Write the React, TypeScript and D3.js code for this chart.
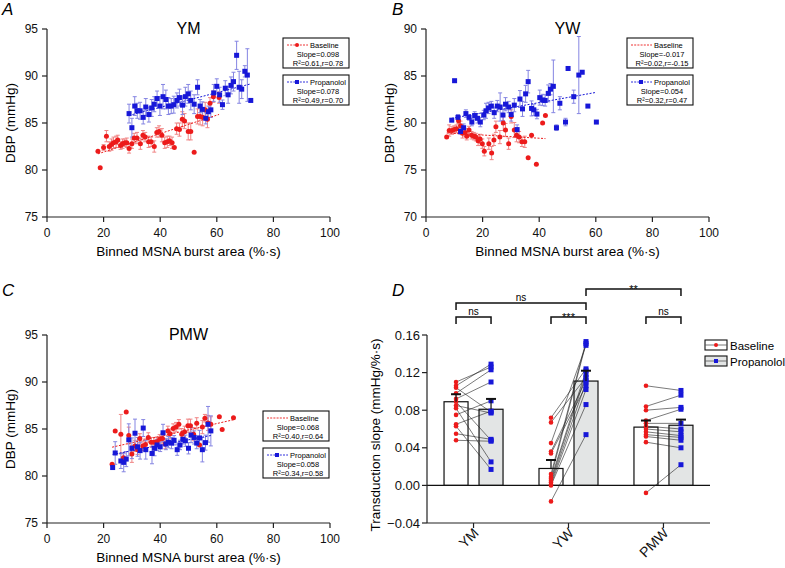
import React from 'react';
import * as d3 from 'd3';

// [burst area (%·s), DBP (mmHg), SEM]
type Pt = [number, number, number];

const ymBaseline: Pt[] = [
  [18, 82.0, 0], [18.8, 80.25, 0], [20, 82.4, 0.3], [21, 83.6, 0.6], [22, 82.5, 0.5], [22.8, 82.7, 0.6],
  [23.5, 82.9, 0.6], [24.4, 83.0, 0.6], [25, 83.2, 0.5], [26, 82.6, 0.4], [26.7, 82.8, 0.5], [27.5, 82.9, 0.4],
  [28.2, 82.9, 0.5], [29, 82.3, 0.5], [30, 82.8, 0.5], [30.8, 83.4, 0.5], [31.8, 83.4, 0.6], [33, 82.8, 0.6],
  [33.9, 83.7, 0.5], [34.7, 83.5, 0.5], [35.9, 83.0, 0.6], [36.8, 83.0, 0.5], [37.9, 82.5, 0.6], [38.8, 84.0, 0.5],
  [39.6, 84.1, 0.6], [40.6, 83.7, 0.7], [41.6, 82.9, 0.6], [42.5, 83.0, 0.6], [43.3, 83.1, 0.5], [44.2, 82.9, 0.6],
  [45, 82.4, 0], [45.8, 84.4, 0.6], [46.8, 84.3, 0.7], [47.8, 85.4, 0.8], [48.6, 85.2, 0.8], [49.9, 84.1, 0.9],
  [50.8, 84.1, 0.9], [52, 81.9, 0], [53.2, 85.7, 0.8], [54.1, 85.7, 0.9], [55, 85.6, 0.9], [55.9, 86.4, 0.8],
  [56.7, 85.4, 0.9], [57.6, 87.1, 0.6], [58.8, 87.8, 0.6], [60.8, 87.7, 0.6],
];
const ymPropanolol: Pt[] = [
  [29, 86.0, 1.0], [30, 84.5, 1.0], [31, 86.8, 1.0], [31.9, 86.3, 0.8], [32.9, 86.3, 0.9], [34, 85.6, 0.7],
  [34.9, 86.7, 0.9], [36, 85.9, 0.8], [37, 86.6, 0.9], [37.9, 87.0, 0.8], [38.9, 87.6, 0.8], [39.9, 86.8, 1.0],
  [41, 87.8, 1.3], [42, 87.5, 1.0], [42.9, 86.8, 0.9], [43.9, 86.8, 0.8], [44.8, 86.95, 0.9], [45.9, 87.4, 0.8],
  [46.8, 87.7, 0.9], [47.9, 86.9, 1.0], [48.9, 87.8, 1.0], [49.9, 88.1, 1.0], [50.8, 87.4, 1.0], [52, 87.0, 1.0],
  [53.2, 88.8, 0.8], [54.1, 86.8, 0.7], [54.9, 86.45, 0.8], [56.1, 85.5, 0.6], [57, 86.2, 0.6], [57.9, 86.4, 0.8],
  [58.9, 88.2, 0.9], [60, 88.9, 0.8], [61, 88.0, 0.8], [62, 86.95, 0.5], [63, 88.7, 0.8], [64, 88.0, 0.9],
  [65, 89.0, 0.9], [65.9, 89.4, 1.0], [67, 92.2, 1.5], [67.9, 88.8, 1.7], [68.8, 88.6, 1.0], [69.9, 90.5, 0.6],
  [70.8, 90.1, 2.8], [72, 87.4, 0],
];

const ywBaseline: Pt[] = [
  [7.3, 78.5, 0], [8.2, 79.2, 0.6], [9.2, 79.2, 0.4], [10, 79.3, 0.4], [10.8, 79.4, 0.4], [11.5, 80.25, 0.3],
  [12.2, 79.7, 0.5], [12.9, 78.9, 0.5], [13.8, 79.0, 0.4], [14.4, 78.6, 0.4], [15.2, 79.25, 0.4], [16.1, 78.7, 0.4],
  [16.9, 78.6, 0.4], [17.6, 78.5, 0.4], [18.4, 78.1, 0.5], [19.1, 78.3, 0.5], [19.9, 77.8, 0.5], [20.6, 77.0, 0.5],
  [22.2, 77.8, 0.6], [23.2, 76.8, 0.7], [24, 78.2, 0.6], [24.7, 79.6, 0.6], [26.1, 78.5, 0.7], [27.3, 80.0, 0.8],
  [28.1, 79.25, 0.7], [29.2, 77.8, 0.6], [30.1, 80.7, 0.7], [31.2, 79.25, 0.8], [32, 78.7, 0.7], [32.9, 78.5, 0.6],
  [33.9, 78.0, 0.5], [34.9, 78.0, 0.6], [36.1, 76.3, 0], [37.3, 78.7, 0], [39, 75.6, 0], [41.2, 80.0, 0],
  [42.2, 80.8, 0],
];
const ywPropanolol: Pt[] = [
  [9.1, 80.3, 0], [10.1, 84.5, 0], [11.3, 80.6, 0.3], [12.2, 79.1, 0.3], [13.3, 79.5, 0.4], [14.1, 81.0, 0.4],
  [15.2, 80.6, 0.3], [16.2, 80.1, 0.4], [17.2, 80.8, 0.4], [18.2, 80.5, 0.5], [19.2, 80.1, 0.5], [20.4, 80.85, 0.5],
  [21.2, 81.3, 0.8], [22.1, 81.6, 0.6], [23.1, 81.8, 0.5], [24.1, 81.1, 0.6], [25.2, 81.8, 0.6], [26.2, 81.7, 1.5],
  [27.2, 80.85, 0.6], [28.1, 82.0, 0.7], [29.2, 81.7, 0.6], [30.1, 80.9, 0.7], [31.2, 81.9, 0.7], [32.2, 79.3, 0.5],
  [33.2, 82.55, 0.9], [34.1, 81.5, 0.8], [35.2, 83.1, 0.9], [36.1, 84.4, 1.2], [37.3, 81.55, 0.8], [38.1, 81.4, 0.6],
  [39.2, 80.95, 0.5], [40.2, 82.7, 0.8], [41.2, 82.45, 0.6], [42.1, 82.4, 0.6], [43.2, 83.15, 0.9], [44, 83.6, 0.6],
  [45, 83.9, 2.8], [46.1, 79.5, 0.3], [47.3, 82.1, 0.7], [49.3, 80.1, 0.4], [50.2, 85.8, 0], [52.2, 82.8, 0.7],
  [54, 85.1, 4.1], [55.2, 85.4, 0], [57.2, 81.8, 0], [60.2, 80.1, 0],
];

const pmwBaseline: Pt[] = [
  [23, 81.25, 0], [24.1, 84.8, 0], [26.1, 84.45, 2.1], [27, 81.95, 0.5], [28, 86.8, 0], [28.9, 84.3, 0.9],
  [30, 82.35, 0.9], [31.1, 83.2, 0.6], [32, 82.8, 0.5], [32.8, 84.0, 0.5], [33.9, 83.2, 0.5], [34.8, 83.35, 0.6],
  [35.8, 84.1, 0.5], [36.8, 83.6, 0.5], [37.8, 83.6, 0.5], [38.8, 83.65, 0.5], [39.8, 83.9, 0.5], [40.8, 84.0, 0.5],
  [41.8, 83.4, 0.5], [42.7, 84.8, 0.5], [43.5, 84.5, 0.5], [44.6, 85.05, 0.5], [45.6, 85.2, 0.5], [46.6, 85.5, 0.5],
  [47.6, 84.45, 0.6], [48.6, 84.7, 0.6], [49.8, 85.35, 0.7], [50.7, 85.35, 0.7], [51.8, 84.45, 0.7], [52.9, 85.6, 0.6],
  [53.9, 83.3, 0], [54.9, 85.2, 0.7], [55.8, 86.15, 0.4], [56.9, 85.65, 0.8], [57.9, 85.5, 0.8], [60.9, 86.3, 0],
  [61.9, 84.95, 0], [65.9, 86.2, 0],
];
const pmwPropanolol: Pt[] = [
  [23.2, 80.9, 0], [24.1, 82.45, 1.2], [26.1, 81.6, 0.8], [27.1, 81.45, 1.0], [28, 81.8, 0.8], [28.9, 83.85, 1.7],
  [30, 82.95, 1.1], [31.1, 84.55, 1.5], [32, 83.1, 1.0], [32.9, 82.7, 0.9], [34, 85.1, 0.9], [34.9, 82.8, 1.0],
  [37.1, 82.4, 1.1], [38, 82.95, 0.8], [38.9, 83.3, 0.6], [40, 83.1, 0.5], [41, 84.6, 0.9], [42, 83.4, 0.6],
  [42.9, 83.6, 0.6], [44, 83.5, 0.6], [44.9, 83.8, 0.5], [46, 82.8, 0.6], [47, 83.3, 0.5], [48, 83.9, 0.5],
  [48.9, 83.75, 0.6], [50, 82.95, 0.6], [50.9, 84.35, 0.8], [52, 84.1, 0.7], [52.9, 83.5, 0.6], [53.9, 84.05, 0.8],
  [54.9, 82.8, 1.3], [56, 83.55, 0.8], [56.9, 85.5, 1.9], [57.9, 84.8, 1.6],
];

// slope, R², r as printed in each legend
const ymStats = { base: [0.098, '0.61', '0.78'], prop: [0.078, '0.49', '0.70'] };
const ywStats = { base: [-0.017, '0.02', '-0.15'], prop: [0.054, '0.32', '0.47'] };
const pmwStats = { base: [0.068, '0.40', '0.64'], prop: [0.058, '0.34', '0.58'] };

// panel D
const groups = ['YM', 'YW', 'PMW'];
const slopeTicks = [-0.04, 0, 0.04, 0.08, 0.12, 0.16];
const baselineMean = [0.089, 0.018, 0.062];
const baselineSem = [0.008, 0.009, 0.007];
const propMean = [0.081, 0.111, 0.064];
const propSem = [0.011, 0.011, 0.006];
const slopeBaseline = [
  [0.110, 0.106, 0.104, 0.098, 0.092, 0.089, 0.085, 0.082, 0.075, 0.065, 0.063, 0.055, 0.048],
  [0.072, 0.067, 0.045, 0.036, 0.034, 0.012, 0.009, 0.007, 0.005, 0.003, 0.001, 0.000, -0.017],
  [0.106, 0.084, 0.080, 0.069, 0.066, 0.063, 0.060, 0.057, 0.054, 0.052, 0.046, -0.008],
];
const slopePropanolol = [
  [0.126, 0.129, 0.078, 0.123, 0.110, 0.048, 0.077, 0.025, 0.090, 0.079, 0.017, 0.049, 0.047],
  [0.124, 0.115, 0.149, 0.112, 0.106, 0.153, 0.151, 0.122, 0.118, 0.110, 0.102, 0.086, 0.054],
  [0.101, 0.096, 0.083, 0.081, 0.066, 0.060, 0.057, 0.053, 0.051, 0.048, 0.040, 0.022],
];
// [group, side, group, side, level, label]
const brackets: [string, number, string, number, number, string][] = [
  ['YM', -1, 'YM', 1, 0, 'ns'],
  ['YW', -1, 'YW', 1, 0, '***'],
  ['PMW', -1, 'PMW', 1, 0, 'ns'],
  ['YM', -1, 'YW', 1, 1, 'ns'],
  ['YW', 1, 'PMW', 1, 2, '**'],
];

const FONT = "'Liberation Sans', Arial, Helvetica, sans-serif";
const RED = '#ec1b1b';
const BLUE = '#1717d8';
const RED_ERR = '#f08585';
const BLUE_ERR = '#8585e2';

function fitLine(pts: Pt[], slope: number) {
  const mx = d3.mean(pts, (d) => d[0]) as number;
  const my = d3.mean(pts, (d) => d[1]) as number;
  const [x0, x1] = d3.extent(pts, (d) => d[0]) as [number, number];
  return [[x0, my + slope * (x0 - mx)], [x1, my + slope * (x1 - mx)]];
}

function Marker({ x, y, kind, color, size = 5 }: any) {
  if (kind === 'circle') return <circle cx={x} cy={y} r={size / 2} fill={color} />;
  return <rect x={x - size / 2} y={y - size / 2} width={size} height={size} fill={color} />;
}

function LegendBox({ x, y, label, color, dash, marker, stats }: any) {
  const w = 66, h = 30;
  return (
    <g fontFamily={FONT} fontSize={7.5}>
      <rect x={x} y={y} width={w} height={h} fill="#fff" stroke="#111" strokeWidth={1.1} />
      <line x1={x + 4} x2={x + 25} y1={y + 7} y2={y + 7} stroke={color} strokeWidth={0.9} strokeDasharray={dash} />
      {marker && <Marker x={x + 14} y={y + 7} kind={marker} color={color} size={4} />}
      <text x={x + 27} y={y + 10}>{label}</text>
      <text x={x + w / 2 + 2} y={y + 18.5} textAnchor="middle">Slope={stats[0].toFixed(3)}</text>
      <text x={x + w / 2 + 2} y={y + 27.5} textAnchor="middle">R²={stats[1]},r={stats[2]}</text>
    </g>
  );
}

function ScatterPanel({ left, top, yMin, title, base, prop, stats, legendX, legendY, baseLegendMarker }: any) {
  const x = d3.scaleLinear().domain([0, 100]).range([left, left + 283]);
  const y = d3.scaleLinear().domain([yMin, yMin + 20]).range([top + 188, top]);
  const bottom = top + 188;
  const line = d3.line<number[]>().x((d) => x(d[0])).y((d) => y(d[1]));
  const series = [
    { pts: base as Pt[], color: RED, err: RED_ERR, kind: 'circle', slope: stats.base[0], dash: '2,1.5' },
    { pts: prop as Pt[], color: BLUE, err: BLUE_ERR, kind: 'square', slope: stats.prop[0], dash: '2,1.5' },
  ];
  return (
    <g fontFamily={FONT}>
      <text x={(x(0) + x(100)) / 2} y={top + 5} textAnchor="middle" fontSize={16}>{title}</text>
      {series.map((s, i) => (
        <g key={'e' + i} stroke={s.err} strokeWidth={1}>
          {s.pts.filter((d) => d[2] > 0).map((d, j) => (
            <g key={j}>
              <line x1={x(d[0])} x2={x(d[0])} y1={y(d[1] - d[2])} y2={y(d[1] + d[2])} />
              <line x1={x(d[0]) - 2} x2={x(d[0]) + 2} y1={y(d[1] + d[2])} y2={y(d[1] + d[2])} />
              <line x1={x(d[0]) - 2} x2={x(d[0]) + 2} y1={y(d[1] - d[2])} y2={y(d[1] - d[2])} />
            </g>
          ))}
        </g>
      ))}
      {series.map((s, i) => (
        <path key={'f' + i} d={line(fitLine(s.pts, s.slope)) as string} stroke={s.color} strokeWidth={1} strokeDasharray={s.dash} fill="none" />
      ))}
      {series.map((s, i) => (
        <g key={'m' + i}>
          {s.pts.map((d, j) => <Marker key={j} x={x(d[0])} y={y(d[1])} kind={s.kind} color={s.color} />)}
        </g>
      ))}
      <g stroke="#222" strokeWidth={1.2}>
        <line x1={left} x2={left} y1={top} y2={bottom} />
        <line x1={left} x2={x(100)} y1={bottom} y2={bottom} />
        {x.ticks(5).map((t) => <line key={t} x1={x(t)} x2={x(t)} y1={bottom} y2={bottom + 5} />)}
        {y.ticks(4).map((t) => <line key={t} x1={left - 5} x2={left} y1={y(t)} y2={y(t)} />)}
      </g>
      <g fontSize={12} fill="#111">
        {x.ticks(5).map((t) => <text key={t} x={x(t)} y={bottom + 20} textAnchor="middle">{t}</text>)}
        {y.ticks(4).map((t) => <text key={t} x={left - 9} y={y(t) + 4} textAnchor="end">{t}</text>)}
      </g>
      <text x={x(50)} y={bottom + 39} textAnchor="middle" fontSize={13.5}>Binned MSNA burst area (%·s)</text>
      <text transform={`translate(${left - 32},${(top + bottom) / 2}) rotate(-90)`} textAnchor="middle" fontSize={13.5}>DBP (mmHg)</text>
      <LegendBox x={legendX} y={legendY} label="Baseline" color={RED} dash="2,1.2" marker={baseLegendMarker} stats={stats.base} />
      <LegendBox x={legendX} y={legendY + 37} label="Propanolol" color={BLUE} dash="2,1.2" marker="square" stats={stats.prop} />
    </g>
  );
}

function SlopePanel() {
  const gx = d3.scalePoint().domain(groups).range([427, 710]).padding(0.49);
  const y = d3.scaleLinear().domain([-0.04, 0.16]).range([523, 335]);
  const off = 17.5, bw = 24;
  const colX = (g: string, side: number) => (gx(g) as number) + side * off;
  return (
    <g fontFamily={FONT}>
      {groups.map((g, i) => (
        <g key={g} stroke="#111" strokeWidth={1.2}>
          <rect x={colX(g, -1) - bw / 2} y={y(Math.max(baselineMean[i], 0))} width={bw} height={Math.abs(y(baselineMean[i]) - y(0))} fill="#fff" />
          <rect x={colX(g, 1) - bw / 2} y={y(propMean[i])} width={bw} height={y(0) - y(propMean[i])} fill="#e3e5e5" />
        </g>
      ))}
      <line x1={427} x2={710} y1={y(0)} y2={y(0)} stroke="#111" strokeWidth={1.2} />
      {groups.map((g, i) => (
        <g key={'p' + g}>
          {slopeBaseline[i].map((v, j) => (
            <line key={j} x1={colX(g, -1)} x2={colX(g, 1)} y1={y(v)} y2={y(slopePropanolol[i][j])} stroke="#222" strokeWidth={0.6} />
          ))}
          {slopeBaseline[i].map((v, j) => <circle key={'b' + j} cx={colX(g, -1)} cy={y(v)} r={2.3} fill={RED} />)}
          {slopePropanolol[i].map((v, j) => <rect key={'q' + j} x={colX(g, 1) - 2.5} y={y(v) - 2.5} width={5} height={5} fill={BLUE} />)}
        </g>
      ))}
      {groups.map((g, i) => (
        <g key={'s' + g} stroke="#111">
          <line x1={colX(g, -1)} x2={colX(g, -1)} y1={y(baselineMean[i])} y2={y(baselineMean[i] + baselineSem[i])} strokeWidth={1.2} />
          <line x1={colX(g, -1) - 5} x2={colX(g, -1) + 5} y1={y(baselineMean[i] + baselineSem[i])} y2={y(baselineMean[i] + baselineSem[i])} strokeWidth={2} />
          <line x1={colX(g, 1)} x2={colX(g, 1)} y1={y(propMean[i])} y2={y(propMean[i] + propSem[i])} strokeWidth={1.2} />
          <line x1={colX(g, 1) - 5} x2={colX(g, 1) + 5} y1={y(propMean[i] + propSem[i])} y2={y(propMean[i] + propSem[i])} strokeWidth={2} />
        </g>
      ))}
      <g stroke="#222" strokeWidth={1.2}>
        <line x1={427} x2={427} y1={335} y2={523} />
        <line x1={427} x2={710} y1={523} y2={523} />
        {slopeTicks.map((t) => <line key={t} x1={422} x2={427} y1={y(t)} y2={y(t)} />)}
        {groups.map((g) => <line key={g} x1={gx(g)} x2={gx(g)} y1={523} y2={528} />)}
      </g>
      <g fontSize={13} fill="#111">
        {slopeTicks.map((t) => <text key={t} x={420} y={y(t) + 4.5} textAnchor="end">{d3.format('.2f')(t)}</text>)}
        {groups.map((g) => (
          <text key={g} transform={`translate(${(gx(g) as number) + 6},${534}) rotate(-45)`} textAnchor="end" fontSize={14}>{g}</text>
        ))}
      </g>
      <text transform="translate(380,435) rotate(-90)" textAnchor="middle" fontSize={13.5}>Transduction slope (mmHg/%·s)</text>
      {brackets.map(([g1, s1, g2, s2, lvl, lab], i) => {
        const by = 317 - lvl * 14;
        const xa = colX(g1, s1), xb = colX(g2, s2);
        const stars = lab.includes('*');
        return (
          <g key={'k' + i}>
            <path d={`M${xa},${by + 7}V${by}H${xb}V${by + 7}`} fill="none" stroke="#111" strokeWidth={1.5} />
            <text x={(xa + xb) / 2} y={stars ? by + 4 : by - 2.5} textAnchor="middle" fontSize={stars ? 11 : 10}>{lab}</text>
          </g>
        );
      })}
      <g fontSize={11.5}>
        <rect x={705} y={340} width={22} height={10} fill="#fff" stroke="#111" strokeWidth={1.1} />
        <line x1={705} x2={727} y1={345} y2={345} stroke="#555" strokeWidth={0.8} />
        <circle cx={716} cy={345} r={2} fill={RED} />
        <text x={730} y={349.5}>Baseline</text>
        <rect x={705} y={356} width={22} height={10} fill="#e3e5e5" stroke="#111" strokeWidth={1.1} />
        <line x1={705} x2={727} y1={361} y2={361} stroke="#555" strokeWidth={0.8} />
        <rect x={714} y={359} width={4} height={4} fill={BLUE} />
        <text x={730} y={365.5}>Propanolol</text>
      </g>
    </g>
  );
}

export default function App() {
  return (
    <svg width={785} height={568} style={{ position: 'absolute', left: 0, top: 0, background: '#fff' }}>
      <rect width={785} height={568} fill="#fff" />
      <g fontFamily={FONT} fontStyle="italic" fontSize={17}>
        <text x={2} y={15}>A</text>
        <text x={392} y={15}>B</text>
        <text x={2} y={296}>C</text>
        <text x={392} y={296}>D</text>
      </g>
      <ScatterPanel left={47} top={29} yMin={75} title="YM" base={ymBaseline} prop={ymPropanolol}
        stats={ymStats} legendX={283} legendY={38} baseLegendMarker="circle" />
      <ScatterPanel left={426} top={29} yMin={70} title="YW" base={ywBaseline} prop={ywPropanolol}
        stats={ywStats} legendX={627} legendY={38} baseLegendMarker={null} />
      <ScatterPanel left={47} top={335} yMin={75} title="PMW" base={pmwBaseline} prop={pmwPropanolol}
        stats={pmwStats} legendX={263} legendY={411} baseLegendMarker={null} />
      <SlopePanel />
    </svg>
  );
}
